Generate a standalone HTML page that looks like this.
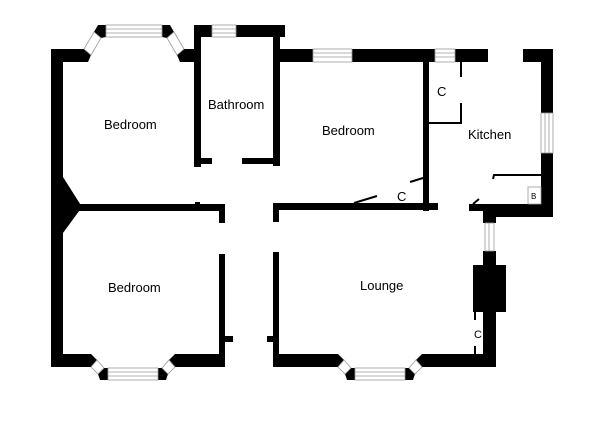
<!DOCTYPE html>
<html><head><meta charset="utf-8"><style>
html,body{margin:0;padding:0;background:#fff;}
svg{display:block;}
text{font-family:"Liberation Sans",Arial,sans-serif;fill:#000;}
</style></head><body>
<svg width="603" height="435" viewBox="0 0 603 435" xmlns="http://www.w3.org/2000/svg">
<rect width="603" height="435" fill="#fff"/>
<g fill="#000">
<!-- left outer wall -->
<rect x="51" y="49" width="12" height="318"/>
<polygon points="63,177 82,207 63,233"/>
<!-- top-left bay -->
<polygon points="51,49 84,49 91,55 88,62 51,62"/>
<polygon points="94,32 98,25 106,25 106,37 101,38"/>
<polygon points="174,32 170,25 162,25 162,37 167,38"/>
<polygon points="184,49 194,49 194,62 180,62 177,55"/>
<!-- bathroom -->
<rect x="194" y="25" width="7" height="142"/>
<rect x="194" y="25" width="18" height="12"/>
<rect x="236" y="25" width="49" height="12"/>
<rect x="273" y="25" width="7" height="141"/>
<rect x="273" y="49" width="15" height="13"/>
<rect x="201" y="158" width="11" height="6"/>
<rect x="242" y="158" width="31" height="6"/>
<!-- top wall right -->
<rect x="283" y="49" width="30" height="13"/>
<rect x="352" y="49" width="83" height="13"/>
<rect x="455" y="49" width="33" height="13"/>
<rect x="523" y="49" width="30" height="13"/>
<rect x="541" y="49" width="12" height="64"/>
<rect x="541" y="153" width="12" height="64"/>
<!-- bedroom divider -->
<rect x="423" y="62" width="6" height="149"/>
<!-- middle horizontal walls -->
<rect x="63" y="204" width="162" height="7"/>
<rect x="195" y="202" width="5" height="3"/>
<rect x="219" y="204" width="6" height="19"/>
<rect x="273" y="203" width="6" height="19"/>
<rect x="279" y="203" width="159" height="7"/>
<rect x="469" y="204" width="84" height="7"/>
<rect x="483" y="204" width="70" height="13"/>
<!-- lounge right wall -->
<rect x="483" y="217" width="13" height="6"/>
<rect x="483" y="251" width="13" height="116"/>
<rect x="473" y="265" width="33" height="47"/>
<!-- lower walls -->
<rect x="219" y="254" width="6" height="113"/>
<rect x="225" y="336" width="8" height="6"/>
<rect x="273" y="252" width="6" height="115"/>
<rect x="267" y="336" width="6" height="6"/>
<!-- bottom-left bay -->
<polygon points="51,354 91,354 97,360 91,367 51,367"/>
<polygon points="104,368 108,368 108,380 100,380 98,374"/>
<polygon points="225,354 175,354 169,360 175,367 225,367"/>
<polygon points="162,368 158,368 158,380 166,380 168,374"/>
<!-- lounge bay -->
<polygon points="273,354 338,354 344,360 338,367 273,367"/>
<polygon points="351,368 355,368 355,380 347,380 345,374"/>
<polygon points="496,354 422,354 416,360 422,367 496,367"/>
<polygon points="409,368 405,368 405,380 413,380 415,374"/>
</g>
<!-- windows -->
<g fill="#fff" stroke="#999" stroke-width="0.8">
<rect x="106" y="25" width="56" height="12"/>
<line x1="106" y1="29" x2="162" y2="29"/><line x1="106" y1="33" x2="162" y2="33"/>
<polygon points="84,49 94,32 101,38 91,55"/>
<polygon points="184,49 174,32 167,38 177,55"/>
<rect x="212" y="25" width="24" height="12"/>
<line x1="212" y1="29" x2="236" y2="29"/><line x1="212" y1="33" x2="236" y2="33"/>
<rect x="313" y="49" width="39" height="13"/>
<line x1="313" y1="53" x2="352" y2="53"/><line x1="313" y1="57" x2="352" y2="57"/>
<rect x="435" y="49" width="20" height="13"/>
<line x1="435" y1="53" x2="455" y2="53"/><line x1="435" y1="57" x2="455" y2="57"/>
<rect x="541" y="113" width="12" height="40"/>
<line x1="545" y1="113" x2="545" y2="153"/><line x1="549" y1="113" x2="549" y2="153"/>
<rect x="485" y="223" width="9" height="28"/>
<line x1="489" y1="223" x2="489" y2="251"/>
<rect x="108" y="368" width="50" height="12"/>
<line x1="108" y1="372" x2="158" y2="372"/><line x1="108" y1="376" x2="158" y2="376"/>
<polygon points="91,354 97,360... " style="display:none"/>
<polygon points="97,360 104,368 98,374 91,367"/>
<polygon points="169,360 162,368 168,374 175,367"/>
<rect x="355" y="368" width="50" height="12"/>
<line x1="355" y1="372" x2="405" y2="372"/><line x1="355" y1="376" x2="405" y2="376"/>
<polygon points="344,360 351,368 345,374 338,367"/>
<polygon points="416,360 409,368 415,374 422,367"/>
</g>
<!-- thin lines -->
<g stroke="#000" stroke-width="2" fill="none">
<polyline points="461,62 461,77"/>
<polyline points="461,103 461,123 429,123"/>
<line x1="354" y1="203" x2="377" y2="196"/>
<line x1="410" y1="182" x2="423" y2="178"/>
<polyline points="493,179 494,175 541,175"/>
<line x1="473" y1="204" x2="479" y2="199"/>
<line x1="475" y1="312" x2="475" y2="320"/>
<line x1="475" y1="346" x2="475" y2="355"/>
</g>
<rect x="528" y="187" width="13" height="17" fill="#fff" stroke="#999" stroke-width="0.8"/>
<text x="531" y="199" font-size="8">B</text>
<text x="104" y="129" font-size="13">Bedroom</text>
<text x="208" y="109" font-size="13">Bathroom</text>
<text x="322" y="135" font-size="13">Bedroom</text>
<text x="468" y="139" font-size="13">Kitchen</text>
<text x="108" y="292" font-size="13">Bedroom</text>
<text x="360" y="290" font-size="13">Lounge</text>
<text x="437" y="96" font-size="13">C</text>
<text x="397" y="201" font-size="13">C</text>
<text x="474" y="338" font-size="11">C</text>
</svg>
</body></html>
